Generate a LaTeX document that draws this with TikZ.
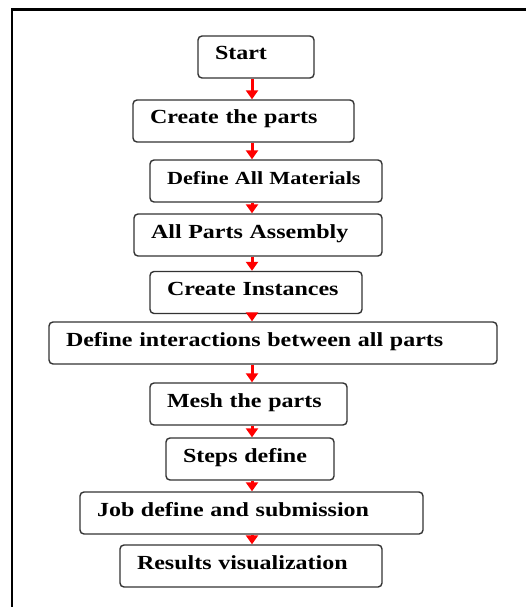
\documentclass[tikz,border=0pt]{standalone}
\usepackage{fontspec}
\setmainfont{Liberation Serif}[FakeStretch=1.2]
\usetikzlibrary{arrows.meta}

\begin{document}
\begin{tikzpicture}[x=1pt, y=-1pt,
  every node/.style={font=\bfseries\fontsize{20}{22}\selectfont},
  stepbox/.style={draw=black!80, line width=1.4pt, rounded corners=4pt, fill=white,
    align=left, inner xsep=17pt, inner ysep=4pt, text height=20pt, text depth=14pt},
  flow/.style={draw=red, line width=3pt, -{Triangle[length=9pt, width=12pt]}}]
  \useasboundingbox (0,0) rectangle (526,607);

  % frame
  \draw[line width=2.2pt] (12,607) -- (12,9.5) -- (526,9.5);

  % steps
  \node[stepbox, text width=82pt]  (start)   at (256,57)    {Start};
  \node[stepbox, text width=187pt] (parts)   at (243.5,121) {Create the parts};
  \node[stepbox, text width=198pt, font=\bfseries\fontsize{18.5}{22}\selectfont]
                                   (mat)     at (266,181)   {Define All Materials};
  \node[stepbox, text width=214pt] (assy)    at (258,235)   {All Parts Assembly};
  \node[stepbox, text width=178pt] (inst)    at (256,292.5) {Create Instances};
  \node[stepbox, text width=414pt] (inter)   at (273,343)   {Define interactions between all parts};
  \node[stepbox, text width=163pt] (mesh)    at (248.5,404) {Mesh the parts};
  \node[stepbox, text width=134pt] (steps)   at (250,459)   {Steps define};
  \node[stepbox, text width=309pt] (job)     at (251.5,513) {Job define and submission};
  \node[stepbox, text width=228pt] (results) at (251,566)   {Results visualization};

  % arrows
  \coordinate (axis) at (252,0);
  \draw[flow] (start.south -| axis) -- (parts.north -| axis);
  \draw[flow] (parts.south -| axis) -- (mat.north -| axis);
  \draw[flow] (mat.south -| axis) -- (assy.north -| axis);
  \draw[flow] (assy.south -| axis) -- (inst.north -| axis);
  \draw[flow] (inst.south -| axis) -- (inter.north -| axis);
  \draw[flow] (inter.south -| axis) -- (mesh.north -| axis);
  \draw[flow] (mesh.south -| axis) -- (steps.north -| axis);
  \draw[flow] (steps.south -| axis) -- (job.north -| axis);
  \draw[flow] (job.south -| axis) -- (results.north -| axis);
\end{tikzpicture}
\end{document}
